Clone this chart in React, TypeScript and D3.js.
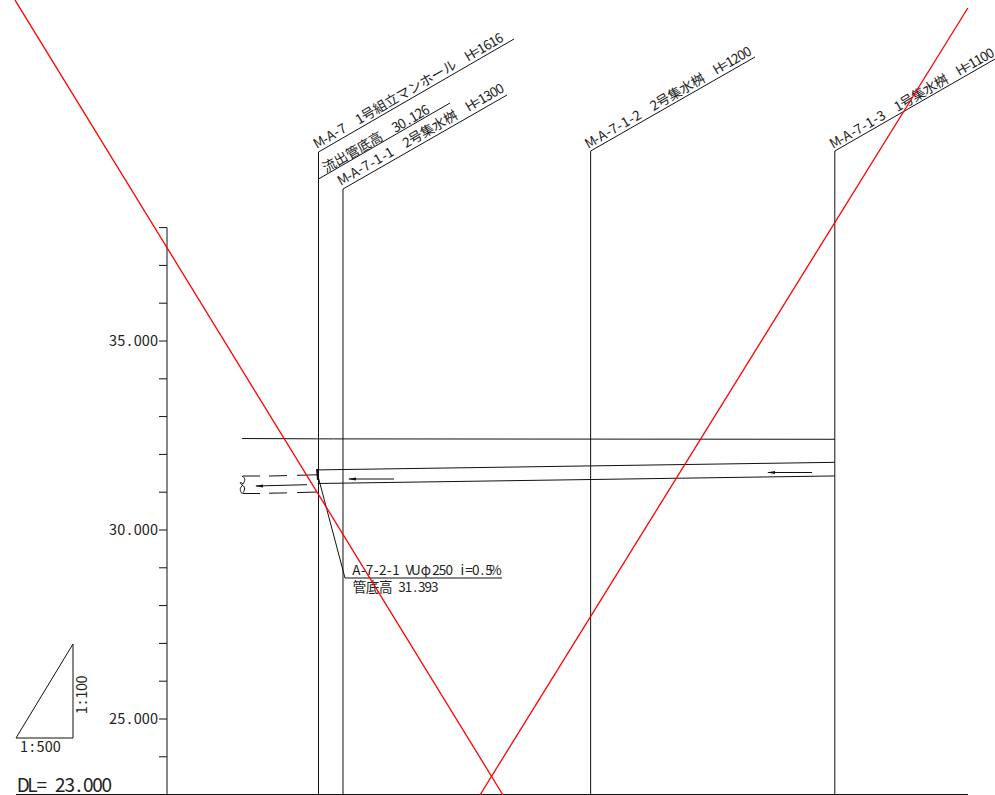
import React from "react";
import * as d3 from "d3";

const stationChainages = [0, 3.24, 36.0, 68.3];
const axisTicks = d3.range(23, 39, 1);
const labelledTicks = [25, 30, 35];
const groundLine = [[-10.1, 32.42], [2, 32.41], [68.3, 32.4]];
const pipeTop = [[-0.1, 31.59], [68.3, 31.79]];
const pipeBottom = [[-0.1, 31.23], [68.3, 31.43]];
const redLineA = [[-40.15, 44.02], [24.4, 22.99]];
const redLineB = [[85.9, 43.81], [21.36, 22.99]];
const labels = [
  "M-A-7  1号組立マンホール  H=1616",
  "流出管底高  30.126",
  "M-A-7-1-1  2号集水桝  H=1300",
  "M-A-7-1-2  2号集水桝  H=1200",
  "M-A-7-1-3  1号集水桝  H=1100",
];
const pipeLabel = "A-7-2-1 VUφ250 i=0.5%";
const inletLabel = "管底高 31.393";
const datumLabel = "DL= 23.000";
const scaleH = "1:500";
const scaleV = "1:100";

const W = 995, H = 795;
const x = d3.scaleLinear().domain([0, 68.3]).range([318.5, 834.8]);
const y = d3.scaleLinear().domain([23, 38]).range([794.6, 227.6]);
const line = d3.line<number[]>().x(d => x(d[0])).y(d => y(d[1]));

const font = '"GothicHyphen", "Liberation Sans Narrow", "Noto Sans CJK JP", "DejaVu Sans", sans-serif';
const fontCss = `@font-face { font-family: "GothicHyphen"; src: local("DejaVu Sans Mono"), local("Liberation Mono"); unicode-range: U+002D; }`;
const ink = "#111";

function cellCenters(text: string, cell: number) {
  const xs: number[] = [];
  let c = 0;
  for (const ch of text) {
    const n = ch.charCodeAt(0) > 255 ? 2 : 1;
    xs.push(c * cell + (n * cell) / 2);
    c += n;
  }
  return xs.map(v => v.toFixed(2)).join(" ");
}

function Gothic({ text, px, py, cell = 6.7, size = 13.5, rotate = 0 }: { text: string; px: number; py: number; cell?: number; size?: number; rotate?: number }) {
  return (
    <text transform={`translate(${px},${py}) rotate(${rotate})`} x={cellCenters(text, cell)} y={0} textAnchor="middle" fontSize={size} fill="#222" fontFamily={font} style={{ whiteSpace: "pre" }}>
      {text}
    </text>
  );
}

function Arrow({ x1, x2, yy }: { x1: number; x2: number; yy: number }) {
  return (
    <g>
      <line x1={x1} x2={x2} y1={yy} y2={yy} stroke={ink} strokeWidth={1} />
      <path d={`M${x1 - 1},${yy}L${x1 + 7},${yy - 1.5}L${x1 + 7},${yy + 1.5}Z`} fill={ink} />
    </g>
  );
}

function Leader({ pts }: { pts: number[][] }) {
  return <polyline points={pts.map(p => p.join(",")).join(" ")} fill="none" stroke={ink} strokeWidth={1} />;
}

export default function App() {
  return (
    <svg width={W} height={H} viewBox={`0 0 ${W} ${H}`} style={{ position: "absolute", left: 0, top: 0, background: "#fff" }}>
      <style>{fontCss}</style>
      {/* datum line and elevation axis */}
      <line x1={16} x2={968} y1={794.5} y2={794.5} stroke={ink} />
      <line x1={167} x2={167} y1={y(38)} y2={H} stroke={ink} />
      {axisTicks.map(t => (
        <line key={t} x1={159} x2={167} y1={y(t)} y2={y(t)} stroke={ink} />
      ))}
      {labelledTicks.map(t => (
        <Gothic key={t} text={d3.format(".3f")(t)} px={109} py={y(t) + 5} cell={8.2} size={14.5} />
      ))}

      {/* stations */}
      <Leader pts={[[x(stationChainages[0]), H], [x(stationChainages[0]), 152], [514, 39]]} />
      <Leader pts={[[318.5, 179], [450, 103]]} />
      <Leader pts={[[x(stationChainages[1]), H], [x(stationChainages[1]), 189], [507, 95]]} />
      <Leader pts={[[x(stationChainages[2]), H], [x(stationChainages[2]), 151], [755, 57]]} />
      <Leader pts={[[x(stationChainages[3]), H], [x(stationChainages[3]), 151], [995, 59]]} />
      <Gothic text={labels[0]} px={318.5} py={148} rotate={-30} />
      <Gothic text={labels[1]} px={326} py={173} rotate={-30} />
      <Gothic text={labels[2]} px={342.5} py={185} rotate={-30} />
      <Gothic text={labels[3]} px={590} py={148} rotate={-30} />
      <Gothic text={labels[4]} px={835} py={148} rotate={-30} cell={6.6} />

      {/* ground and pipe */}
      <path d={line(groundLine as number[][])!} fill="none" stroke={ink} />
      <path d={line(pipeTop as number[][])!} fill="none" stroke={ink} />
      <path d={line(pipeBottom as number[][])!} fill="none" stroke={ink} />
      <line x1={317} x2={318} y1={469} y2={480} stroke={ink} strokeWidth={2} />

      {/* downstream pipe */}
      <g stroke={ink} fill="none">
        <path d="M243,476L260,476M269,476L287,475.6M297,475.3L317,474.8" />
        <path d="M243,493.5L260,493.5M269,493.2L287,492.9M297,492.6L317,492" />
        <path d="M242,476C246,478 245,481 243,484C240,481 239,483 242,485C246,487 245,491 242,493.5C240,491 239,488 243,485" />
      </g>
      <g>
        <line x1={256} x2={307} y1={486} y2={484.7} stroke={ink} />
        <path d="M255,486L263,484.4L263,487.4Z" fill={ink} />
      </g>
      <Arrow x1={349} x2={394} yy={479} />
      <Arrow x1={768} x2={812} yy={472.5} />

      {/* pipe annotation */}
      <Leader pts={[[318.5, 478], [345, 578], [502, 578]]} />
      <Gothic text={pipeLabel} px={353} py={575} cell={6.63} />
      <Gothic text={inletLabel} px={353} py={592} cell={6.54} />

      {/* slope triangle */}
      <path d="M16,738L73,738L73,644Z" fill="none" stroke={ink} />
      <Gothic text={scaleH} px={20} py={752} cell={8.2} size={14.5} />
      <Gothic text={scaleV} px={87} py={714} cell={7.7} size={14.5} rotate={-90} />
      <Gothic text={datumLabel} px={18.5} py={791.5} cell={9.3} size={19} />

      {/* red lines */}
      <path d={line(redLineA as number[][])!} fill="none" stroke="#f00" strokeWidth={1.3} />
      <path d={line(redLineB as number[][])!} fill="none" stroke="#f00" strokeWidth={1.3} />
    </svg>
  );
}
